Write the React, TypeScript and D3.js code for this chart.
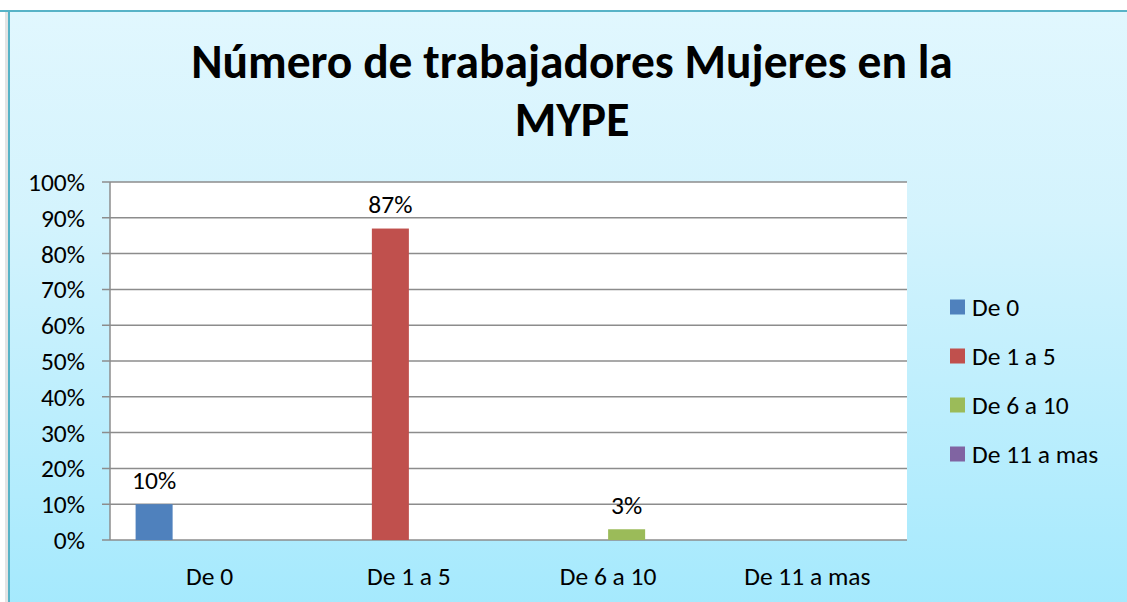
import React from "react";
import * as d3 from "d3";

const categories = ["De 0", "De 1 a 5", "De 6 a 10", "De 11 a mas"];
const seriesNames = ["De 0", "De 1 a 5", "De 6 a 10", "De 11 a mas"];
const seriesColors = ["#4f81bd", "#c0504d", "#9bbb59", "#8064a2"];
// values[series][category]
const seriesValues = [
  [0.10, 0, 0, 0],
  [0, 0.87, 0, 0],
  [0, 0, 0.03, 0],
  [0, 0, 0, 0],
];
const yTicks = [0, 0.1, 0.2, 0.3, 0.4, 0.5, 0.6, 0.7, 0.8, 0.9, 1.0];
const titleLines = ["Número de trabajadores Mujeres en la", "MYPE"];

const W = 1127;
const H = 602;
const FONT = "Carlito, Lato, 'Open Sans', sans-serif";
const FS = 25.5;

export default function App() {
  const plot = { left: 110, right: 907, top: 182, bottom: 540 };
  const x0 = d3.scaleBand().domain(categories).range([plot.left, plot.right]).paddingInner(0).paddingOuter(0);
  const bw = x0.bandwidth();
  const gap = 25.6;
  const x1 = d3
    .scaleBand()
    .domain(seriesNames)
    .range([gap, bw - gap])
    .padding(0);
  const y = d3.scaleLinear().domain([0, 1]).range([plot.bottom, plot.top]);
  const fmt = d3.format(".0%");

  return (
    <svg
      width={W}
      height={H}
      style={{ position: "absolute", left: 0, top: 0, display: "block" }}
      fontFamily={FONT}
    >
      <defs>
        <linearGradient id="bg" x1="0" y1="0" x2="0" y2="1">
          <stop offset="0%" stopColor="#e1f7fe" />
          <stop offset="35%" stopColor="#d3f3fd" />
          <stop offset="100%" stopColor="#a4e9fd" />
        </linearGradient>
      </defs>
      <rect x={0} y={0} width={W} height={H} fill="#ffffff" />
      <rect x={5} y={12} width={4} height={H} fill="#e4e4e4" />
      <rect x={9} y={11} width={W} height={H} fill="url(#bg)" />
      <line x1={0} x2={W} y1={11} y2={11} stroke="#58b3c7" strokeWidth={2} />
      <line x1={9} x2={9} y1={10} y2={H} stroke="#58b3c7" strokeWidth={2} />

      {titleLines.map((t, i) => (
        <text
          key={i}
          x={572}
          y={78 + i * 58}
          textAnchor="middle"
          fontWeight="bold"
          fontSize={47.5}
          fill="#000"
        >
          {t}
        </text>
      ))}

      <rect
        x={plot.left}
        y={plot.top}
        width={plot.right - plot.left}
        height={plot.bottom - plot.top}
        fill="#ffffff"
      />
      {yTicks.map((t) => (
        <g key={t}>
          <line
            x1={plot.left - 8}
            x2={plot.right}
            y1={y(t)}
            y2={y(t)}
            stroke="#8c8c8c"
            strokeWidth={1.5}
          />
          <text
            x={85}
            y={y(t)}
            dy="0.35em"
            textAnchor="end"
            fontSize={FS}
            fill="#000"
          >
            {fmt(t)}
          </text>
        </g>
      ))}
      <line
        x1={plot.left}
        x2={plot.left}
        y1={plot.top}
        y2={plot.bottom}
        stroke="#8c8c8c"
        strokeWidth={1.5}
      />

      {seriesValues.map((vals, si) =>
        vals.map((v, ci) => {
          if (v <= 0) return null;
          const bx = (x0(categories[ci]) as number) + (x1(seriesNames[si]) as number);
          const bwid = x1.bandwidth();
          return (
            <g key={`${si}-${ci}`}>
              <rect
                x={bx}
                y={y(v)}
                width={bwid}
                height={y(0) - y(v)}
                fill={seriesColors[si]}
              />
              <text
                x={bx + bwid / 2}
                y={y(v) - 24}
                dy="0.35em"
                textAnchor="middle"
                fontSize={FS}
                fill="#000"
              >
                {fmt(v)}
              </text>
            </g>
          );
        })
      )}

      {categories.map((c) => (
        <text
          key={c}
          x={(x0(c) as number) + bw / 2}
          y={576}
          dy="0.35em"
          textAnchor="middle"
          fontSize={FS}
          fill="#000"
        >
          {c}
        </text>
      ))}

      {seriesNames.map((s, i) => (
        <g key={s} transform={`translate(950, ${307 + i * 49})`}>
          <rect x={0} y={-7.5} width={15} height={15} fill={seriesColors[i]} />
          <text x={22} y={0} dy="0.35em" fontSize={FS} fill="#000">
            {s}
          </text>
        </g>
      ))}
    </svg>
  );
}
